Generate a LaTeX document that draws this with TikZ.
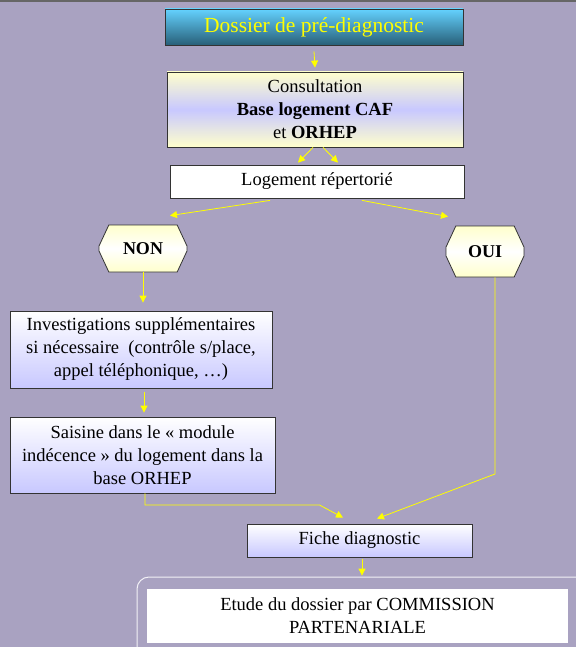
\documentclass[tikz,border=0pt]{standalone}
\usepackage{fontspec}
\setmainfont{Liberation Serif}
\usetikzlibrary{arrows.meta,shapes.misc}

\definecolor{bgcol}{RGB}{169,162,193}
\definecolor{lilac}{RGB}{200,200,255}
\definecolor{cream}{RGB}{255,255,204}
\definecolor{skyblue}{RGB}{100,210,255}
\definecolor{teal}{RGB}{40,95,120}
\definecolor{arrowyellow}{RGB}{255,255,0}

\tikzset{
	box/.style={draw=black!80,line width=0.8pt,inner sep=0pt,align=center,font=\fontsize{18.5}{23}\selectfont},
	answer/.style={box,chamfered rectangle,chamfered rectangle angle=25,chamfered rectangle xsep=7pt,chamfered rectangle ysep=15pt,top color=cream,bottom color=cream,middle color=white,font=\fontsize{18}{22}\selectfont\bfseries},
	flow/.style={draw=arrowyellow,line width=0.8pt,-{Triangle[length=7pt,width=7pt]}}
}

\begin{document}
\begin{tikzpicture}[x=1pt,y=-1pt]
	\path[use as bounding box,clip] (0,0) rectangle (576,647);
	\fill[bgcol] (0,0) rectangle (576,647);
	\draw[black!60,line width=2pt] (0,1) -- (576,1);

	\node[box,minimum width=298pt,minimum height=36pt,top color=skyblue,bottom color=teal,font=\fontsize{21.5}{24}\selectfont,text=arrowyellow] (title) at (314,27) {Dossier de pré-diagnostic};

	\node[box,minimum width=296pt,minimum height=75pt,top color=cream,bottom color=cream,middle color=lilac] (consult) at (315,109.5) {Consultation\\\textbf{Base logement CAF}\\et \textbf{ORHEP}};

	\node[box,minimum width=294pt,minimum height=33pt,fill=white] (logement) at (317,181.5) {Logement répertorié};

	\node[answer,minimum width=88pt,minimum height=47pt] (non) at (143,248.5) {NON};

	\node[answer,minimum width=78pt,minimum height=51pt] (oui) at (485,251.5) {OUI};

	\node[box,minimum width=262pt,minimum height=77pt,top color=white,bottom color=lilac] (invest) at (141,349.5) {Investigations supplémentaires\\si nécessaire\ \ (contrôle s/place,\\appel téléphonique, \dots)};

	\node[box,minimum width=265pt,minimum height=76pt,top color=white,bottom color=lilac] (saisine) at (142.5,455) {Saisine dans le « module\\indécence » du logement dans la\\base ORHEP};

	\node[box,minimum width=225pt,minimum height=33pt,top color=white,bottom color=lilac] (fiche) at (359.5,540.5) {Fiche diagnostic};

	\node[draw=white!85!bgcol,line width=1pt,rounded corners=12pt,minimum width=463pt,minimum height=93pt] (frame) at (368.5,623.5) {};

	\node[box,draw=none,minimum width=421pt,minimum height=54pt,fill=white] (etude) at (357.5,616) {Etude du dossier par COMMISSION\\PARTENARIALE};

	\coordinate (joinL) at (145,505);
	\coordinate (joinR) at (495,474);

	\draw[flow] ([yshift=-6pt]title.south) -- ([yshift=4pt]consult.north);
	\draw[flow] ([xshift=-2pt]consult.south) -- ([xshift=-19pt,yshift=2pt]logement.north);
	\draw[flow] ([xshift=8pt]consult.south) -- ([xshift=21pt,yshift=2pt]logement.north);
	\draw[flow] ([xshift=-47pt,yshift=-2pt]logement.south) -- ([xshift=27pt,yshift=9pt]non.north);
	\draw[flow] ([xshift=45pt,yshift=-2pt]logement.south) -- ([xshift=-37pt,yshift=9pt]oui.north);
	\draw[flow] (non.south) -- ([xshift=2pt,yshift=8pt]invest.north);
	\draw[flow] ([xshift=3pt,yshift=-4pt]invest.south) -- ([xshift=1.5pt,yshift=4pt]saisine.north);
	\draw[flow] ([xshift=2.5pt]saisine.south) |- ([xshift=-40pt]joinL -| fiche.north) -- ([xshift=-16.5pt,yshift=6pt]fiche.north);
	\draw[flow] ([xshift=10pt]oui.south) -- (joinR) -- ([xshift=17.5pt,yshift=5pt]fiche.north);
	\draw[flow] ([xshift=2.5pt,yshift=-2pt]fiche.south) -- ([xshift=4.5pt,yshift=13pt]etude.north);
\end{tikzpicture}
\end{document}
